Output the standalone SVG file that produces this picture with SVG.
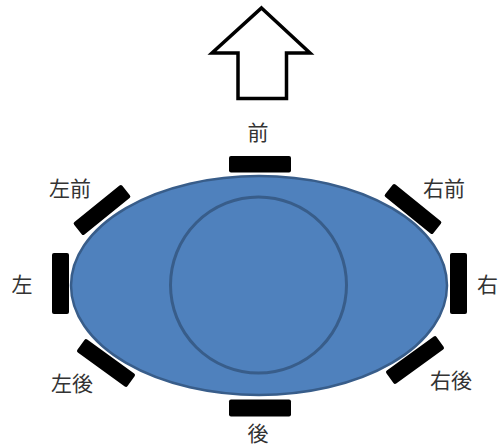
<svg xmlns="http://www.w3.org/2000/svg" width="500" height="447" viewBox="0 0 500 447">
<style>
.bar{fill:#000}
.lbl{font-family:"Noto Sans CJK JP","Noto Sans",sans-serif;font-size:21px;fill:#333;text-anchor:middle}
</style>
<rect width="500" height="447" fill="#fff"/>
<g id="arrow">
<polygon points="261.5,8 310,53 286.5,53 286.5,98.5 238,98.5 238,53 212,53" fill="#fff" stroke="#000" stroke-width="3.5" stroke-linejoin="miter"/>
</g>
<g id="body">
<ellipse cx="259" cy="285.5" rx="188" ry="109.5" fill="#4F81BD" stroke="#385D8A" stroke-width="2.5"/>
<circle cx="258.5" cy="285" r="88" fill="none" stroke="#385D8A" stroke-width="3"/>
</g>
<g id="connectors"></g>
<g id="front"><rect class="bar" x="229" y="156" width="62" height="16.5" rx="2"/><text class="lbl" x="258" y="140">前</text></g>
<g id="back"><rect class="bar" x="229" y="399.5" width="62" height="17" rx="2"/><text class="lbl" x="258" y="441">後</text></g>
<g id="left"><rect class="bar" x="52" y="253" width="17" height="61" rx="2"/><text class="lbl" x="22" y="292">左</text></g>
<g id="right"><rect class="bar" x="450" y="253" width="17" height="61" rx="2"/><text class="lbl" x="477" y="292" style="text-anchor:start">右</text></g>
<g id="left-front"><rect class="bar" x="-31" y="-8" width="62" height="16" rx="2" transform="translate(102,210) rotate(-39)"/><text class="lbl" x="70" y="196">左前</text></g>
<g id="right-front"><rect class="bar" x="-31" y="-8" width="62" height="16" rx="2" transform="translate(413,209) rotate(39)"/><text class="lbl" x="444" y="196">右前</text></g>
<g id="left-back"><rect class="bar" x="-31" y="-8" width="62" height="16" rx="2" transform="translate(106,363) rotate(36)"/><text class="lbl" x="72" y="391">左後</text></g>
<g id="right-back"><rect class="bar" x="-31" y="-8" width="62" height="16" rx="2" transform="translate(415,360) rotate(-36)"/><text class="lbl" x="451" y="388">右後</text></g>
</svg>
